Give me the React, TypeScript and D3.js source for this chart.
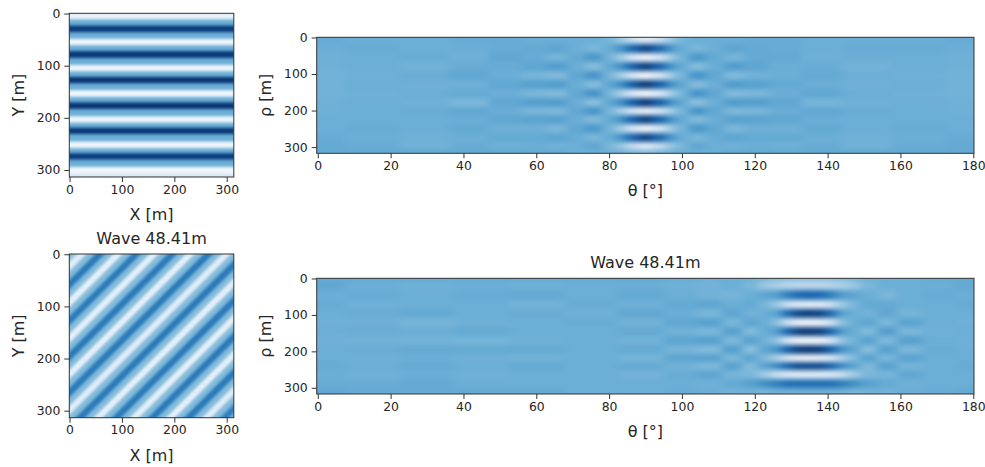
import * as d3 from "d3";
import { useEffect, useRef } from "react";

// values are 0-100 positions on the Blues colormap
const ticksMetres = [0, 100, 200, 300];
const ticksTheta = [0, 20, 40, 60, 80, 100, 120, 140, 160, 180];

// top left image: brightness per row
const waveARows = [0, 5, 17, 29, 42, 55, 66, 78, 92, 105, 116, 127, 140, 154, 165, 176, 190, 204, 214, 224, 238, 253, 263, 273, 287, 301, 313];
const waveAValues = [14, 4, 50, 96, 50, 3, 50, 97, 50, 3, 50, 98, 50, 3, 50, 98, 50, 3, 50, 97, 50, 3, 50, 96, 50, 4, 16];

// bottom left image: brightness along x + y
const waveBU = [0, 6, 23, 40, 58, 75, 92, 110, 127, 144, 161, 178, 196, 213, 230, 247, 265, 282, 299, 316, 334, 351, 368, 385, 403, 420, 437, 454, 472, 489, 506, 523, 541, 558, 575, 592, 610, 626];
const waveBValues = [52, 40, 10, 44, 72, 44, 8, 44, 72, 44, 8, 44, 72, 44, 8, 44, 72, 44, 10, 44, 72, 44, 8, 44, 72, 44, 8, 44, 72, 44, 8, 44, 72, 44, 10, 44, 70, 44];

const sinoATheta = [0, 15, 30, 42, 52, 60, 66, 71, 76, 80, 83, 86, 90, 94, 97, 100, 104, 109, 114, 120, 128, 138, 150, 165, 180];
const sinoARho = [7, 31, 55, 80, 104, 129, 153, 178, 201, 226, 248, 276, 296, 313];
const sinoAValues = [
  [51, 50, 50, 51, 51, 50, 50, 50, 50, 47, 38, 22, 10, 22, 38, 47, 50, 50, 50, 51, 51, 50, 50, 50, 51],
  [50, 51, 50, 50, 51, 52, 54, 50, 46, 51, 62, 80, 93, 80, 62, 51, 46, 50, 54, 52, 51, 50, 51, 51, 50],
  [49, 50, 51, 49, 53, 51, 47, 52, 60, 48, 36, 15, 4, 15, 36, 48, 60, 52, 47, 52, 52, 49, 50, 50, 49],
  [49, 50, 48, 51, 51, 54, 58, 50, 43, 52, 63, 82, 95, 82, 63, 52, 43, 50, 58, 54, 50, 51, 48, 50, 49],
  [48, 49, 51, 53, 50, 47, 44, 53, 62, 47, 35, 14, 3, 14, 35, 47, 62, 53, 44, 48, 50, 52, 50, 49, 48],
  [48, 50, 49, 49, 53, 56, 58, 50, 43, 53, 64, 84, 97, 84, 64, 53, 43, 50, 58, 56, 52, 50, 49, 50, 48],
  [48, 49, 50, 52, 50, 46, 44, 53, 62, 47, 33, 12, 2, 12, 33, 47, 62, 53, 44, 46, 50, 53, 50, 49, 48],
  [49, 50, 49, 46, 53, 57, 58, 50, 42, 53, 64, 84, 97, 84, 64, 53, 42, 50, 58, 57, 53, 47, 49, 50, 49],
  [49, 50, 51, 53, 50, 46, 45, 53, 62, 47, 33, 12, 2, 12, 33, 47, 62, 53, 45, 46, 50, 53, 51, 50, 49],
  [50, 50, 50, 50, 53, 55, 56, 50, 44, 52, 63, 82, 95, 82, 63, 52, 44, 50, 56, 55, 53, 50, 50, 50, 50],
  [50, 51, 50, 52, 49, 49, 46, 53, 60, 48, 36, 15, 4, 15, 36, 48, 60, 53, 46, 49, 49, 52, 50, 51, 50],
  [51, 50, 49, 50, 52, 52, 54, 51, 46, 51, 62, 80, 93, 80, 62, 51, 46, 51, 54, 52, 52, 50, 49, 50, 51],
  [52, 51, 48, 51, 49, 50, 48, 50, 54, 46, 38, 20, 7, 20, 38, 46, 54, 50, 48, 50, 49, 51, 48, 51, 52],
  [52, 52, 52, 52, 52, 52, 52, 50, 50, 50, 48, 46, 44, 46, 48, 50, 50, 50, 52, 52, 52, 52, 52, 52, 52],
];

const sinoBTheta = [0, 15, 30, 45, 60, 75, 90, 100, 108, 114, 119, 123, 126, 129, 132, 135, 138, 141, 144, 147, 151, 156, 162, 170, 180];
const sinoBRho = [0, 16, 46, 70, 96, 120, 144, 169, 194, 218, 240, 264, 289, 313];
const sinoBValues = [
  [52, 52, 52, 52, 52, 52, 52, 51, 50, 50, 50, 48, 46, 44, 44, 44, 44, 44, 46, 48, 50, 50, 50, 51, 52],
  [53, 50, 49, 50, 49, 50, 50, 49, 48, 50, 46, 38, 33, 29, 27, 27, 27, 29, 33, 38, 46, 50, 50, 50, 52],
  [50, 51, 50, 51, 52, 50, 52, 50, 48, 47, 50, 54, 58, 70, 78, 80, 78, 70, 58, 54, 50, 46, 50, 51, 50],
  [51, 49, 50, 50, 48, 51, 49, 52, 54, 50, 52, 46, 38, 20, 11, 10, 11, 20, 38, 46, 52, 52, 50, 50, 51],
  [50, 51, 52, 50, 51, 49, 53, 50, 46, 54, 48, 50, 56, 78, 93, 96, 93, 78, 56, 50, 48, 53, 47, 50, 50],
  [49, 49, 47, 49, 50, 51, 48, 53, 56, 46, 54, 50, 42, 18, 5, 3, 5, 18, 42, 50, 54, 46, 55, 50, 49],
  [50, 51, 50, 52, 50, 50, 52, 48, 46, 56, 44, 51, 58, 80, 96, 98, 96, 80, 58, 51, 44, 57, 46, 49, 50],
  [49, 48, 48, 47, 49, 50, 48, 54, 56, 45, 56, 48, 40, 14, 3, 2, 3, 14, 40, 48, 56, 45, 56, 50, 49],
  [50, 51, 52, 52, 52, 50, 52, 47, 44, 57, 42, 54, 62, 82, 96, 98, 96, 82, 62, 54, 43, 56, 46, 51, 50],
  [50, 49, 50, 49, 48, 50, 47, 54, 56, 45, 55, 44, 32, 12, 4, 3, 4, 12, 32, 44, 56, 46, 55, 50, 50],
  [51, 50, 52, 50, 52, 50, 52, 48, 45, 56, 44, 56, 66, 82, 92, 93, 92, 82, 66, 56, 45, 56, 47, 50, 51],
  [50, 49, 50, 49, 50, 50, 48, 51, 54, 47, 46, 36, 22, 13, 11, 11, 11, 13, 22, 36, 46, 47, 53, 50, 50],
  [51, 51, 52, 50, 50, 50, 50, 50, 49, 52, 56, 64, 70, 76, 77, 77, 77, 76, 70, 64, 56, 52, 49, 50, 50],
  [53, 52, 52, 52, 52, 50, 50, 51, 50, 48, 48, 46, 48, 48, 48, 48, 48, 48, 48, 46, 48, 48, 50, 51, 52],
];

const blues = d3.piecewise(d3.interpolateRgb, d3.schemeBlues[9]);
const color = d3.scaleSequential((t: number) => blues(t)).domain([0, 100]);
const FONT = "'DejaVu Sans', sans-serif";
const INK = "#262626";

// band edges halfway between samples, outer ones pushed past the frame
function edges(values: number[], pad = 60) {
  const mids = d3.pairs(values).map(([a, b]) => (a + b) / 2);
  return [values[0] - pad, ...mids, values[values.length - 1] + pad];
}

function Axes({ x, y, xTicks, yTicks }: any) {
  const gx = useRef<SVGGElement>(null);
  const gy = useRef<SVGGElement>(null);
  useEffect(() => {
    const style = (g: any) => {
      g.select(".domain").remove();
      g.selectAll("line").attr("stroke", "#333").attr("stroke-width", 1);
      g.selectAll("text").attr("fill", INK).attr("font-size", 12.4).attr("font-family", FONT);
    };
    d3.select(gx.current).call(d3.axisBottom(x).tickValues(xTicks).tickFormat(d3.format("d")).tickSize(5).tickPadding(3) as any).call(style);
    d3.select(gy.current).call(d3.axisLeft(y).tickValues(yTicks).tickFormat(d3.format("d")).tickSize(5).tickPadding(4) as any).call(style);
  }, []);
  return (
    <>
      <g ref={gx} transform={`translate(0,${y.range()[1]})`} />
      <g ref={gy} transform={`translate(${x.range()[0]},0)`} />
    </>
  );
}

function Frame({ x, y, id, filter, xTicks, yTicks, xLabel, yLabel, title, children }: any) {
  const [x0, x1] = x.range();
  const [y0, y1] = y.range();
  const cx = (x0 + x1) / 2;
  const cy = (y0 + y1) / 2;
  const lx = x0 - 45.5;
  return (
    <g>
      <clipPath id={id}>
        <rect x={x0} y={y0} width={x1 - x0} height={y1 - y0} />
      </clipPath>
      <g clipPath={`url(#${id})`}>
        <g filter={`url(#${filter})`}>{children}</g>
      </g>
      <rect x={x0} y={y0} width={x1 - x0} height={y1 - y0} fill="none" stroke="#333" strokeWidth={1} />
      <Axes x={x} y={y} xTicks={xTicks} yTicks={yTicks} />
      <text x={cx} y={y1 + 43} textAnchor="middle" fontSize={16} fontFamily={FONT} fill={INK}>
        {xLabel}
      </text>
      <text transform={`translate(${lx},${cy}) rotate(-90)`} textAnchor="middle" fontSize={16} fontFamily={FONT} fill={INK}>
        {yLabel}
      </text>
      {title && (
        <text x={cx} y={y0 - 10} textAnchor="middle" fontSize={16} fontFamily={FONT} fill={INK}>
          {title}
        </text>
      )}
    </g>
  );
}

function Sinogram({ x, y, thetas, rhos, values }: any) {
  const tEdges = edges(thetas);
  const rEdges = edges(rhos);
  return (
    <>
      {values.map((row: number[], r: number) =>
        row.map((v, c) => (
          <rect
            key={`${r}-${c}`}
            x={Math.round(x(tEdges[c]))}
            y={Math.round(y(rEdges[r]))}
            width={Math.round(x(tEdges[c + 1])) - Math.round(x(tEdges[c]))}
            height={Math.round(y(rEdges[r + 1])) - Math.round(y(rEdges[r]))}
            fill={color(v)}
            shapeRendering="crispEdges"
          />
        ))
      )}
    </>
  );
}

export default function App() {
  const imgDomain = [-0.5, 313.5];
  const xImg = d3.scaleLinear().domain(imgDomain).range([69.3, 233.8]);
  const yImgA = d3.scaleLinear().domain(imgDomain).range([13.3, 177]);
  const yImgB = d3.scaleLinear().domain(imgDomain).range([254, 417.7]);
  const xSino = d3.scaleLinear().domain([-0.3, 180.2]).range([316.7, 974]);
  const ySinoA = d3.scaleLinear().domain([-0.5, 317]).range([37.3, 153.3]);
  const ySinoB = d3.scaleLinear().domain([-0.5, 317]).range([278.3, 394]);

  const aEdges = edges(waveARows);
  const bEdges = edges(waveBU);
  // painter's order: each band runs on to the far corner, the next one covers it
  const stripe = d3.line<number[]>().x((d) => xImg(d[0])).y((d) => yImgB(d[1]));
  const far = 800;

  return (
    <svg width={985} height={467} style={{ position: "absolute", left: 0, top: 0, display: "block", background: "#fff" }}>
      <defs>
        <filter id="soft" filterUnits="userSpaceOnUse" x={0} y={0} width={985} height={467} colorInterpolationFilters="sRGB">
          <feGaussianBlur stdDeviation="4 2.4" />
        </filter>
        <filter id="softA" filterUnits="userSpaceOnUse" x={0} y={0} width={985} height={467} colorInterpolationFilters="sRGB">
          <feGaussianBlur stdDeviation="1.8" />
        </filter>
      </defs>

      <Frame x={xImg} y={yImgA} id="clipA" filter="softA" xTicks={ticksMetres} yTicks={ticksMetres} xLabel="X [m]" yLabel="Y [m]">
        {waveAValues.map((v, i) => (
          <rect key={i} x={0} width={300} y={yImgA(aEdges[i])} height={yImgA(aEdges[aEdges.length - 1]) - yImgA(aEdges[i])} fill={color(v)} />
        ))}
      </Frame>

      <Frame x={xImg} y={yImgB} id="clipB" filter="softA" xTicks={ticksMetres} yTicks={ticksMetres} xLabel="X [m]" yLabel="Y [m]" title="Wave 48.41m">
        {waveBValues.map((v, i) => {
          const u = bEdges[i];
          const d = stripe([[u + far, -far], [-far, u + far], [-far, far * 3], [far * 3, -far]]);
          return <path key={i} d={d as string} fill={color(v)} />;
        })}
      </Frame>

      <Frame x={xSino} y={ySinoA} id="clipC" filter="soft" xTicks={ticksTheta} yTicks={ticksMetres} xLabel="θ [°]" yLabel="ρ [m]">
        <Sinogram x={xSino} y={ySinoA} thetas={sinoATheta} rhos={sinoARho} values={sinoAValues} />
      </Frame>

      <Frame x={xSino} y={ySinoB} id="clipD" filter="soft" xTicks={ticksTheta} yTicks={ticksMetres} xLabel="θ [°]" yLabel="ρ [m]" title="Wave 48.41m">
        <Sinogram x={xSino} y={ySinoB} thetas={sinoBTheta} rhos={sinoBRho} values={sinoBValues} />
      </Frame>
    </svg>
  );
}
